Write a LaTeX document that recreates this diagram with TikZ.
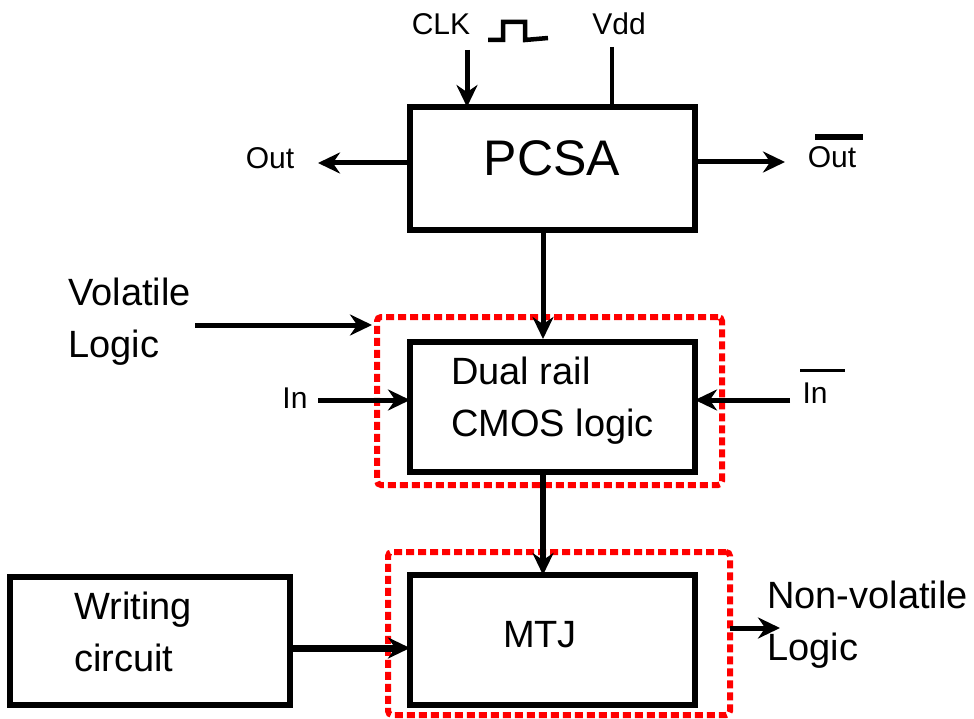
\documentclass[tikz,border=0pt]{standalone}
\usepackage{fontspec}
\setmainfont{Liberation Sans}
\usetikzlibrary{arrows.meta,calc}
\begin{document}
\begin{tikzpicture}[x=1pt,y=-1pt,
 blk/.style={draw,line width=6pt,inner sep=0pt,outer sep=0pt},
 arr/.style={line width=5pt,-{Stealth[length=22pt,width=21pt]}},
 grp/.style={draw=red,line width=6pt,dash pattern=on 8pt off 4pt,rounded corners=4pt,inner sep=0pt,outer sep=0pt},
 sm/.style={font=\fontsize{30}{36}\selectfont,inner sep=0pt},
 md/.style={font=\fontsize{38}{52}\selectfont,inner sep=0pt,align=left},
 big/.style={font=\fontsize{50}{58}\selectfont,inner sep=0pt}]
\useasboundingbox (0,0) rectangle (974,719);
% boxes
\node[blk,minimum width=285pt,minimum height=123pt] (pcsa) at (552.5,168.5) {};
\node[big] (pcsat) at (552,158) {PCSA};
\node[grp,minimum width=345pt,minimum height=168pt] (grp1) at (549.5,401) {};
\node[blk,minimum width=285pt,minimum height=130pt] (dual) at (552.5,407) {};
\node[md,anchor=west] (dualt) at (451,401) {Dual rail\\CMOS logic};
\node[grp,minimum width=342pt,minimum height=163pt] (grp2) at (559,633.5) {};
\node[blk,minimum width=285pt,minimum height=130pt] (mtj) at (552.5,640) {};
\node[md] (mtjt) at (540,635) {MTJ};
\node[blk,minimum width=280pt,minimum height=128pt] (writ) at (150,641) {};
\node[md,anchor=west] (writt) at (74,632) {Writing\\circuit};
% top inputs
\node[sm] (clk) at (441,24) {CLK};
\node[sm] (vdd) at (619,24) {Vdd};
\coordinate (clks) at (467,50);
\coordinate (vdds) at (612,47);
\draw[arr] (clks) -- (clks |- pcsa.north);
\draw[line width=4.5pt] (vdds) -- (vdds |- pcsa.north);
\draw[line width=4.5pt] (488,40) -- (503,40) -- (503,22) -- (525,22) -- (525,40) -- (548,38);
% outputs
\node[sm] (outl) at (270,158) {Out};
\coordinate (outle) at (318,163);
\draw[arr] (pcsa.west |- outle) -- (outle);
\node[sm] (outr) at (832,157) {Out};
\draw[line width=6pt] (815,137) -- (863,137);
\coordinate (outre) at (785,162);
\draw[arr] (pcsa.east |- outre) -- (outre);
% vertical flow
\coordinate (vx) at (543,0);
\draw[arr] (vx |- pcsa.south) -- ($(vx |- dual.north)+(0,-3)$);
\draw[arr,line width=6pt] (vx |- dual.south) -- (vx |- mtj.north);
% left / right inputs
\node[md,anchor=west] (vol) at (68,322) {Volatile\\Logic};
\coordinate (vols) at (195,325);
\draw[arr] (vols) -- ($(grp1.west |- vols)+(-5,0)$);
\node[sm] (inl) at (295,398) {In};
\coordinate (ins) at (318,400);
\draw[arr] (ins) -- (dual.west |- ins);
\node[sm] (inr) at (815,393) {In};
\draw[line width=3pt] (800,370) -- (845,370);
\coordinate (inrs) at (790,400);
\draw[arr] (inrs) -- (dual.east |- inrs);
% bottom
\coordinate (wy) at (0,648);
\draw[arr,line width=7pt] (writ.east |- wy) -- (mtj.west |- wy);
\node[md,anchor=west] (nv) at (767,625) {Non-volatile\\Logic};
\coordinate (nve) at (780,628);
\draw[arr] (grp2.east |- nve) -- (nve);
\end{tikzpicture}
\end{document}
